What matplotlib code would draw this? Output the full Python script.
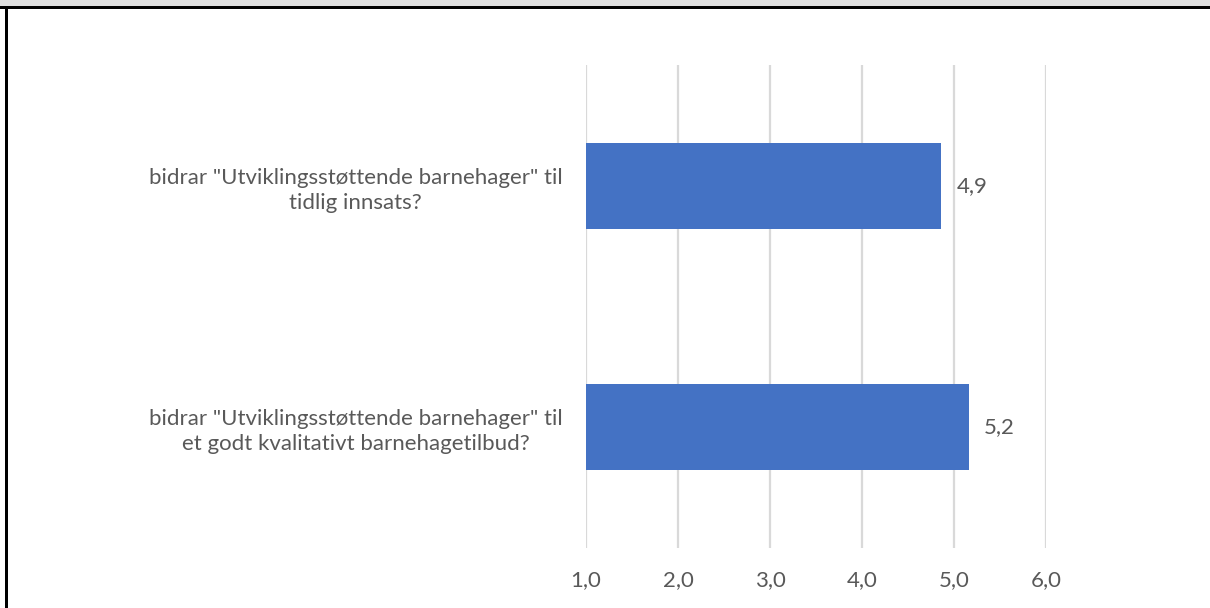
import matplotlib.pyplot as plt
from matplotlib.patches import Rectangle
from matplotlib.ticker import FuncFormatter

categories = ['bidrar "Utviklingsstøttende barnehager" til\ntidlig innsats?',
              'bidrar "Utviklingsstøttende barnehager" til\net godt kvalitativt barnehagetilbud?']
values = [4.86, 5.16]
ticks = [1, 2, 3, 4, 5, 6]

plt.rcParams['font.family'] = ['Lato', 'DejaVu Sans']
text_col = '#595959'
fs = 16

fig = plt.figure(figsize=(12.1, 6.08), dpi=100)
fig.patch.set_facecolor('white')
ax = fig.add_axes([586 / 1210, 1 - 548 / 608, 460 / 1210, 483 / 608])

pos = [1, 0]
ax.barh(pos, [v - 1 for v in values], left=1, height=0.357, color='#4472C4', zorder=3)
for p, v in zip(pos, values):
    ax.annotate(f"{v:.1f}".replace('.', ','), (v, p), xytext=(11, 0),
                textcoords='offset points', va='center', ha='left',
                fontsize=fs, color=text_col)

ax.set_xlim(1, 6)
ax.set_ylim(-0.5, 1.5)
ax.set_xticks(ticks)
ax.xaxis.set_major_formatter(FuncFormatter(lambda x, _: f"{x:.1f}".replace('.', ',')))
ax.set_yticks(pos)
ax.set_yticklabels(categories, ha='center', fontsize=fs, color=text_col,
                   linespacing=1.3)
ax.tick_params(axis='y', length=0, pad=166)
ax.tick_params(axis='x', length=0, pad=16, labelsize=fs, labelcolor=text_col)
ax.grid(axis='x', color='#d9d9d9', linewidth=1.6, zorder=0)
for s in ax.spines.values():
    s.set_visible(False)

# frame of the screenshot
fig.patches.append(Rectangle((0, 1 - 6 / 608), 1, 6 / 608, transform=fig.transFigure,
                             facecolor='#dedede', edgecolor='none'))
fig.patches.append(Rectangle((0, 1 - 9 / 608), 1, 3 / 608, transform=fig.transFigure,
                             facecolor='black', edgecolor='none'))
fig.patches.append(Rectangle((5 / 1210, 0), 3 / 1210, 1 - 6 / 608, transform=fig.transFigure,
                             facecolor='black', edgecolor='none'))

fig.savefig('out.png', dpi=100, facecolor='white')
